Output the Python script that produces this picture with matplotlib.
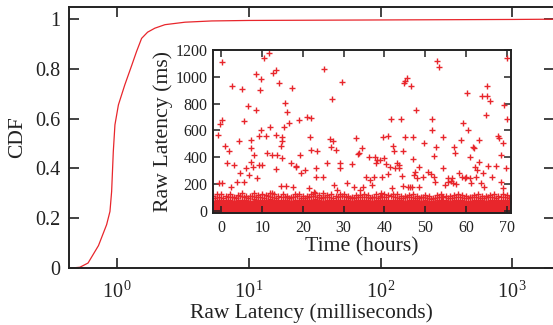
import math
import matplotlib
matplotlib.use("Agg")
import matplotlib.pyplot as plt
from matplotlib.ticker import FixedLocator, NullLocator, FuncFormatter

plt.rcParams['font.family'] = ['Liberation Serif', 'DejaVu Serif']
plt.rcParams['mathtext.fontset'] = 'custom'
plt.rcParams['mathtext.rm'] = 'Liberation Serif'
plt.rcParams['mathtext.it'] = 'Liberation Serif:italic'

RED = '#e8262c'
INK = '#222222'

# ---- CDF data (milliseconds, cumulative fraction) ----
cdf_ms = [0.43, 0.45, 0.52, 0.60, 0.72, 0.83, 0.88, 0.906, 0.933, 0.96, 1.02, 1.14,
          1.29, 1.40, 1.53, 1.70, 1.93, 2.30, 3.27, 5.21, 10, 100, 1000, 2070]
cdf_val = [0, 0, 0.003, 0.02, 0.09, 0.174, 0.227, 0.307, 0.468, 0.575, 0.655, 0.735,
           0.815, 0.869, 0.922, 0.947, 0.963, 0.977, 0.987, 0.992, 0.994, 0.996, 0.998, 0.999]

# ---- inset scatter outliers (hours, ms) ----
out_h = [0.2, -0.8, -0.3, 0.2, -0.6, 0.2, 0.8, 1.3, 1.9, 2.7, 2.3, 3.1, 4.3, 3.9, 4.6, 5.1, 5.5,
         5.5, 6.0, 6.4, 6.8, 7.2, 7.2, 7.2, 7.8, 8.0, 8.4, 8.6, 8.8, 9.2, 9.2, 9.5, 9.6, 9.8,
         10.0, 10.4, 10.9, 11.1, 11.7, 11.9, 12.5, 12.5, 12.7, 13.3, 13.3, 13.5, 13.7, 14.1,
         14.5, 14.9, 14.8, 14.9, 14.5, 15.3, 15.6, 16.0, 15.9, 16.6, 17.0, 17.4, 17.6, 18.2,
         18.4, 19.0, 19.4, 19.6, 20.6, 21.0, 21.5, 21.7, 22.0, 22.0, 22.7, 23.1, 23.3, 23.5,
         25.1, 24.9, 24.9, 25.9, 26.6, 26.9, 27.2, 27.4, 28.0, 27.6, 28.4, 29.0, 29.2, 29.6,
         30.8, 32.1, 32.5, 33.1, 33.5, 33.7, 34.1, 34.5, 34.8, 35.6, 36.1, 36.5, 37.0, 37.4,
         37.8, 38.0, 38.3, 38.8, 39.2, 39.4, 39.6, 40.0, 40.5, 40.8, 40.8, 41.3, 41.6, 41.8,
         42.1, 42.3, 42.7, 43.2, 43.5, 43.7, 44.1, 44.3, 44.5, 44.5, 44.9, 45.1, 45.1, 45.5,
         45.8, 46.2, 46.5, 46.7, 46.9, 47.1, 47.3, 47.6, 47.8, 48.0, 48.4, 48.6, 49.4, 49.6,
         50.8, 51.4, 51.6, 51.8, 52.1, 52.2, 52.5, 52.7, 53.0, 53.5, 54.1, 54.3, 54.5, 54.9,
         55.5, 55.7, 56.3, 56.5, 56.9, 57.1, 57.3, 57.6, 58.2, 58.7, 59.0, 59.2, 59.8, 60.0,
         60.2, 60.6, 60.9, 61.0, 61.2, 61.7, 62.0, 62.2, 62.5, 62.8, 63.1, 63.3, 63.6, 63.9,
         64.1, 64.5, 64.9, 65.1, 65.3, 65.5, 65.9, 66.3, 67.4, 67.9, 68.2, 68.5, 68.5, 69.0,
         69.0, 69.3, 69.8, 70.0, 70.2]
out_ms = [1112, 568, 648, 675, 205, 210, 480, 355, 443, 930, 180, 343, 518, 218, 280, 912, 673,
          218, 318, 785, 268, 468, 530, 368, 330, 418, 1023, 755, 243, 555, 343, 898, 985, 605,
          343, 1143, 555, 430, 1175, 623, 135, 418, 1025, 1048, 568, 310, 418, 955,
          480, 550, 393, 518, 185, 623, 805, 735, 185, 655, 360, 918, 180, 335,
          330, 680, 418, 280, 305, 700, 168, 550, 693, 455, 143, 318, 255, 443,
          1055, 255, 130, 360, 535, 475, 835, 518, 455, 193, 155, 318, 360, 963,
          205, 350, 180, 543, 425, 435, 155, 468, 180, 255, 405, 230, 193, 255,
          405, 355, 380, 380, 130, 255, 548, 393, 350, 555, 275, 325, 685, 168,
          480, 443, 318, 355, 343, 318, 685, 260, 450, 185, 955, 968, 548, 993,
          180, 175, 930, 175, 385, 548, 268, 293, 755, 243, 330, 180, 255, 505,
          293, 275, 605, 685, 410, 255, 218, 475, 1118, 1073, 105, 550, 318, 193,
          243, 218, 225, 243, 205, 475, 430, 200, 285, 530, 255, 655, 243, 255,
          880, 605, 400, 243, 205, 475, 468, 330, 255, 305, 530, 368, 205, 860,
          285, 175, 718, 935, 855, 335, 818, 255, 335, 555, 543, 218, 418, 505,
          168, 793, 318, 1143, 685]

# ---- dense low-latency band (ms) ----
band_h = list(range(-2, 72))          # whole hours
band_top = [76, 80, 84, 78, 82, 74, 80, 84, 81, 76, 86, 80, 82, 84, 88, 80, 78, 82, 80, 76,
            80, 84, 80, 78, 82, 86, 80, 76, 80, 82, 78, 80, 84, 80, 74, 78, 80, 82, 80, 76,
            80, 78, 82, 80, 84, 80, 78, 76, 80, 82, 78, 74, 80, 76, 72, 78, 80, 80, 76, 78,
            80, 80, 76, 74, 80, 82, 78, 76, 80, 82, 78, 82, 80, 76]
band_peak = [112, 122, 126, 108, 124, 104, 120, 130, 114, 110, 132, 116, 124, 118, 134, 122,
             108, 126, 112, 106, 122, 128, 112, 110, 124, 130, 116, 104, 120, 126, 110, 122,
             128, 114, 102, 118, 116, 126, 120, 106, 122, 112, 126, 116, 128, 122, 110, 108,
             120, 126, 112, 100, 120, 108, 98, 116, 122, 112, 108, 118, 124, 116, 110, 102,
             120, 126, 114, 110, 120, 124, 112, 126, 116, 108]
band_h2 = [h + 0.5 for h in band_h]   # half hours
band_mid = [98, 106, 94, 104, 100, 92, 108, 102, 96, 110, 100, 104, 96, 112, 102, 94, 106,
            100, 96, 102, 108, 98, 94, 104, 110, 100, 96, 102, 106, 96, 100, 108, 102, 92,
            98, 104, 106, 100, 94, 102, 98, 106, 100, 108, 102, 96, 94, 100, 106, 98, 92,
            100, 96, 90, 98, 104, 100, 96, 98, 106, 100, 96, 92, 100, 106, 98, 96, 102, 104,
            98, 106, 100, 96, 94]

W, H = 553, 325
fig = plt.figure(figsize=(W / 100, H / 100), dpi=100)

# ---------------- main CDF axes ----------------
ax = fig.add_axes([69 / W, (H - 268) / H, (554 - 69) / W, (268 - 7) / H])
ax.plot(cdf_ms, cdf_val, color=RED, lw=0.9)
ax.set_xscale('log')
ax.set_xlim(0.43, 2070)
ax.set_ylim(0, 1.048)
ax.xaxis.set_major_locator(FixedLocator([1, 10, 100, 1000]))
ax.xaxis.set_minor_locator(NullLocator())
ax.xaxis.set_major_formatter(FuncFormatter(lambda v, p: r'$10^{\,%d}$' % round(math.log10(v))))
ax.set_yticks([0, 0.2, 0.4, 0.6, 0.8, 1])
ax.set_yticklabels(['0', '0.2', '0.4', '0.6', '0.8', '1'])
ax.tick_params(axis='both', which='major', direction='in', length=7, width=1.2,
               top=True, right=True, labelsize=14.5, colors=INK)
ax.tick_params(axis='x', pad=10)
ax.tick_params(axis='y', pad=6)
for s in ax.spines.values():
    s.set_linewidth(1.4)
    s.set_color(INK)
ax.set_xlabel('Raw Latency (milliseconds)', fontsize=15.5, color=INK, labelpad=0)
ax.set_ylabel('CDF', fontsize=15.5, color=INK, labelpad=6)

# ---------------- inset scatter axes ----------------
ins = fig.add_axes([213.3 / W, (H - 212.7) / H, (510.7 - 213.3) / W, (212.7 - 50) / H])
ins.fill_between(band_h, -14, band_top, color=RED, lw=0)
ins.plot(band_h, band_top, '+', color=RED, ms=4, mew=1.0, linestyle='none')
ins.plot(band_h2, band_mid, '+', color=RED, ms=4, mew=1.0, linestyle='none')
ins.plot(band_h, band_peak, '+', color=RED, ms=4, mew=1.0, linestyle='none')
ins.plot(out_h, out_ms, '+', color=RED, ms=4.5, mew=1.0, linestyle='none')
ins.set_xlim(-2, 71)
ins.set_ylim(-14, 1200)
ins.set_xticks([0, 10, 20, 30, 40, 50, 60, 70])
ins.set_yticks([0, 200, 400, 600, 800, 1000, 1200])
ins.tick_params(axis='both', direction='in', length=5, width=1.1, top=True, right=True,
                labelsize=11.5, colors=INK)
ins.tick_params(axis='x', pad=5)
ins.tick_params(axis='y', pad=4)
for s in ins.spines.values():
    s.set_linewidth(1.4)
    s.set_color(INK)
ins.set_xlabel('Time (hours)', fontsize=15.7, color=INK, labelpad=1)
ins.set_ylabel('Raw Latency (ms)', fontsize=15.7, color=INK, labelpad=2)

fig.savefig('out.png', dpi=100)
